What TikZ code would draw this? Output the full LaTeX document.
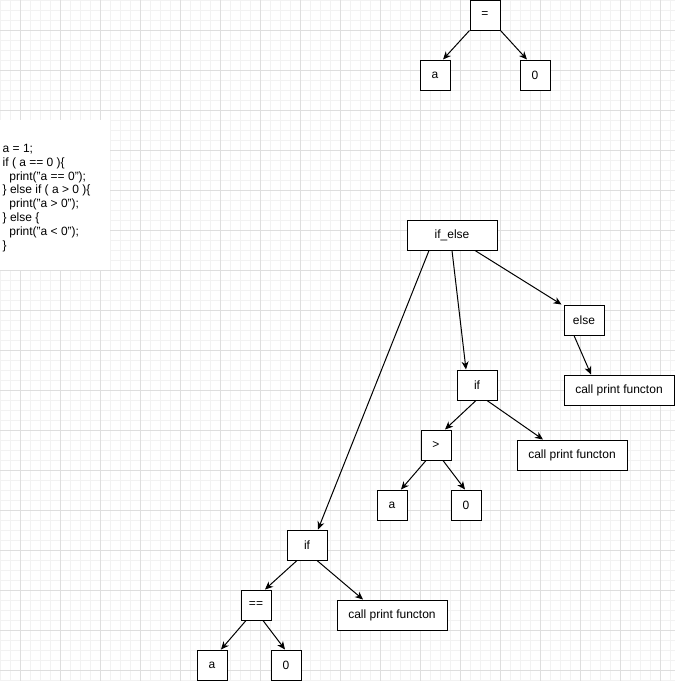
\documentclass[tikz,border=0pt]{standalone}
\usepackage{fontspec}
\setmainfont{Liberation Sans}
\usetikzlibrary{arrows.meta}
\definecolor{gridminor}{HTML}{F2F2F2}
\definecolor{gridmajor}{HTML}{DEDEDE}
\begin{document}
\begin{tikzpicture}[x=1pt,y=-1pt,
  box/.style={draw=black,line width=1pt,fill=white,inner sep=0pt,
    minimum height=30pt,font=\fontsize{12}{14}\selectfont},
  sq/.style={box,minimum width=30pt},
  mid/.style={box,minimum width=40pt},
  wide/.style={box,minimum width=110pt},
  edge/.style={line width=1pt,-{Stealth[length=8pt,width=7pt,inset=2.5pt]}},
  codeline/.style={anchor=base west,inner sep=0pt,font=\fontsize{12}{14}\selectfont}]
  \useasboundingbox (0,0) rectangle (675,681);
  \fill[white] (0,0) rectangle (675,681);
  % background grid: fine lines every 10, stronger lines every 40
  \foreach \gx in {0,10,...,670} \draw[gridminor,line width=1pt] (\gx,0) -- (\gx,681);
  \foreach \gy in {0,10,...,680} \draw[gridminor,line width=1pt] (0,\gy) -- (675,\gy);
  \foreach \gx in {20,60,...,660} \draw[gridmajor,line width=1pt] (\gx,0) -- (\gx,681);
  \foreach \gy in {30,70,...,670} \draw[gridmajor,line width=1pt] (0,\gy) -- (675,\gy);

  % source code snippet
  \fill[white] (0,120) rectangle (110,270);
  \node[codeline] (c1) at (2.5,152.5) {a = 1;};
  \node[codeline] (c2) at (2.5,166.3) {if ( a == 0 )\{};
  \node[codeline] (c3) at (2.5,180.1) {\hspace*{6.7pt}print("a == 0");};
  \node[codeline] (c4) at (2.5,193.9) {\} else if ( a > 0 )\{};
  \node[codeline] (c5) at (2.5,207.7) {\hspace*{6.7pt}print("a > 0");};
  \node[codeline] (c6) at (2.5,221.5) {\} else \{};
  \node[codeline] (c7) at (2.5,235.3) {\hspace*{6.7pt}print("a < 0");};
  \node[codeline] (c8) at (2.5,249.1) {\}};

  % assignment tree
  \node[sq] (eq) at (485,15) {=};
  \node[sq] (ta) at (435,75) {a};
  \node[sq] (tz) at (535,75) {0};
  \draw[edge] (eq.south west) -- ([xshift=8pt]ta.north);
  \draw[edge] (eq.south east) -- ([xshift=-8pt]tz.north);

  % if / else-if / else tree
  \node[box,minimum width=90pt] (ifelse) at (452,235) {if\_else};
  \node[mid] (else) at (584,320) {else};
  \node[wide] (callE) at (619,390) {call print functon};
  \node[mid] (ifM) at (477,385) {if};
  \node[sq] (gtM) at (436,445) {>};
  \node[wide] (callM) at (572,455) {call print functon};
  \node[sq] (aM) at (392,505) {a};
  \node[sq] (zM) at (466,505) {0};
  \node[mid] (ifB) at (307,545) {if};
  \node[sq] (eqB) at (256,605) {==};
  \node[wide] (callB) at (392,615) {call print functon};
  \node[sq] (aB) at (212,665) {a};
  \node[sq] (zB) at (286,665) {0};

  \draw[edge] ([xshift=23pt]ifelse.south) -- ([xshift=-2pt]else.north west);
  \draw[edge] (ifelse.south) -- ([xshift=-11pt]ifM.north);
  \draw[edge] ([xshift=-23pt]ifelse.south) -- ([xshift=11pt]ifB.north);
  \draw[edge] ([xshift=-10pt]else.south) -- ([xshift=-28pt]callE.north);
  \draw[edge] ([xshift=-1pt]ifM.south) -- ([xshift=9pt]gtM.north);
  \draw[edge] ([xshift=10pt]ifM.south) -- ([xshift=-29pt]callM.north);
  \draw[edge] ([xshift=-10pt]gtM.south) -- ([xshift=9pt]aM.north);
  \draw[edge] ([xshift=7pt]gtM.south) -- ([xshift=-1pt]zM.north);
  \draw[edge] ([xshift=-10pt]ifB.south) -- ([xshift=9pt]eqB.north);
  \draw[edge] ([xshift=10pt]ifB.south) -- ([xshift=-29pt]callB.north);
  \draw[edge] ([xshift=-10pt]eqB.south) -- ([xshift=9pt]aB.north);
  \draw[edge] ([xshift=7pt]eqB.south) -- ([xshift=-1pt]zB.north);
\end{tikzpicture}
\end{document}
